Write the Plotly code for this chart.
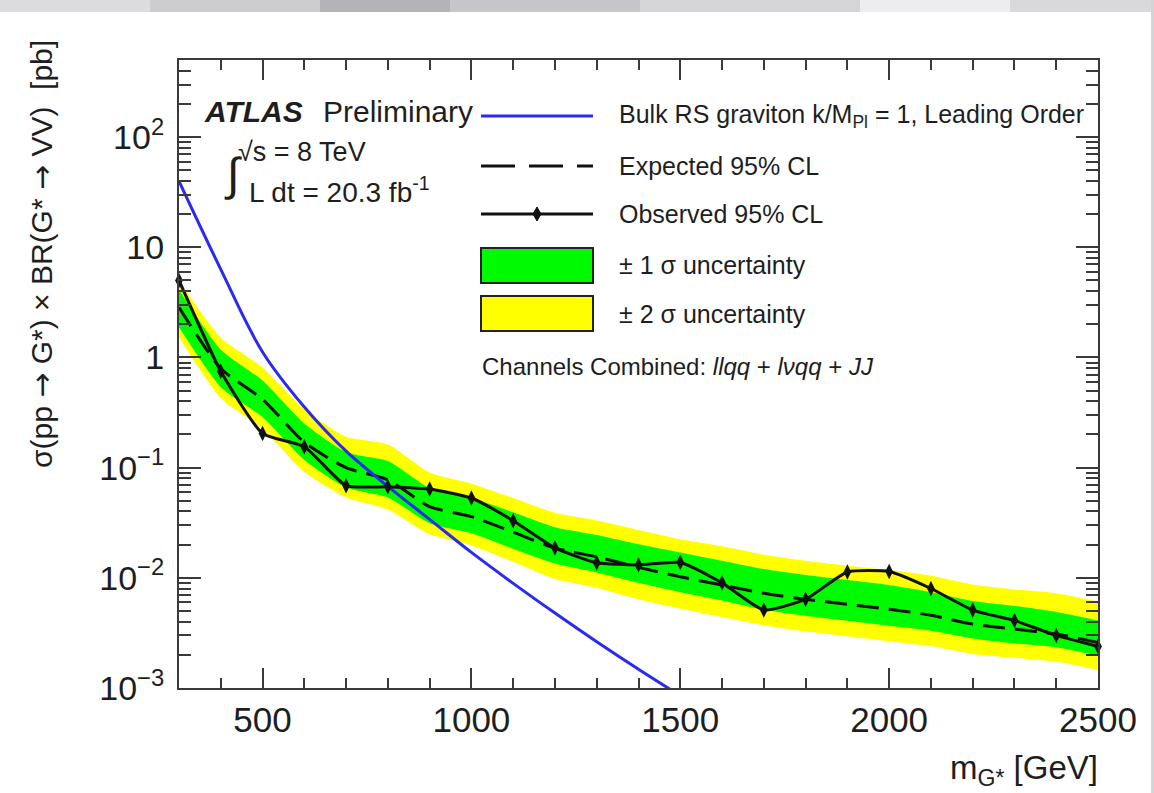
import plotly.graph_objects as go

# Resonance mass points (GeV)
mass = [300, 400, 500, 600, 700, 800, 900, 1000, 1100, 1200, 1300, 1400,
        1500, 1600, 1700, 1800, 1900, 2000, 2100, 2200, 2300, 2400, 2500]

# Observed 95% CL upper limit (pb)
observed = [5.0, 0.75, 0.204, 0.155, 0.0686, 0.067, 0.064, 0.053, 0.033, 0.0187,
            0.0137, 0.0131, 0.0138, 0.0090, 0.0051, 0.0064, 0.0113, 0.0114,
            0.0080, 0.0051, 0.0041, 0.0030, 0.00238]

# Expected 95% CL upper limit (pb)
expected = [2.85, 0.794, 0.417, 0.170, 0.100, 0.0776, 0.0442, 0.0359, 0.0260,
            0.0186, 0.0155, 0.01245, 0.01023, 0.00861, 0.00724, 0.00638,
            0.00575, 0.00519, 0.00457, 0.0038, 0.00343, 0.00309, 0.00259]

# +-1 sigma band edges (pb)
band1_hi = [4.12, 1.175, 0.617, 0.251, 0.138, 0.1148, 0.0653, 0.0531, 0.0394,
            0.0288, 0.0245, 0.0202, 0.0170, 0.01429, 0.0120, 0.0106, 0.00955,
            0.00861, 0.00741, 0.00617, 0.00556, 0.0049, 0.0041]
band1_lo = [1.88, 0.537, 0.288, 0.1175, 0.0661, 0.0537, 0.0313, 0.0254, 0.0184,
            0.0135, 0.0112, 0.00902, 0.00741, 0.00624, 0.00513, 0.00452,
            0.00407, 0.00367, 0.00331, 0.00282, 0.00254, 0.00234, 0.00196]

# +-2 sigma band edges (pb)
band2_hi = [4.95, 1.51, 0.813, 0.339, 0.1905, 0.162, 0.0902, 0.0716, 0.0531,
            0.0389, 0.0331, 0.0272, 0.0224, 0.0193, 0.0162, 0.01429, 0.01288,
            0.01175, 0.01047, 0.00871, 0.00785, 0.00724, 0.00607]
band2_lo = [1.53, 0.427, 0.224, 0.0912, 0.0537, 0.0417, 0.0248, 0.0197, 0.0140,
            0.00977, 0.00813, 0.00638, 0.00525, 0.00442, 0.00372, 0.00327,
            0.00295, 0.00266, 0.0024, 0.00204, 0.00188, 0.00174, 0.00146]

# Bulk RS graviton (k/M_Pl = 1) LO cross section x BR (pb)
theory_mass = [300, 400, 500, 600, 700, 800, 900, 1000, 1100, 1200, 1300, 1400, 1500]
theory_xsec = [39.8, 6.31, 1.122, 0.355, 0.141, 0.0676, 0.0339, 0.0170,
               0.00891, 0.00479, 0.00263, 0.00148, 0.000851]

# Axis ticks
x_tickvals = [500, 1000, 1500, 2000, 2500]
y_tickvals = [1e-3, 1e-2, 1e-1, 1, 10, 100]
y_ticktext = ["10<sup>\u22123</sup>", "10<sup>\u22122</sup>", "10<sup>\u22121</sup>",
              "1", "10", "10<sup>2</sup>"]
y_minor = [m * 10.0 ** e for e in range(-3, 3) for m in range(2, 10)]

FONT = "Liberation Sans, Arial, Helvetica, sans-serif"
AXIS = "#3a3a3a"
TEXT = "#1e1e1e"
GREEN = "#00fa00"
YELLOW = "#ffff00"
BLUE = "#2a2af2"
ARROW = '<span style="font-family:DejaVu Sans">\u2192</span>'

W, H = 1154, 793
L, R, T, B = 179, 1098, 60, 688


def px_x(x):
    return (x - L) / (R - L)


def px_y(y):
    return (B - y) / (B - T)


fig = go.Figure()

# +-2 sigma band
fig.add_trace(go.Scatter(x=mass, y=band2_lo, mode="lines", line=dict(width=0, shape="spline", smoothing=0.6),
                         hoverinfo="skip", showlegend=False))
fig.add_trace(go.Scatter(x=mass, y=band2_hi, mode="lines", line=dict(width=0, shape="spline", smoothing=0.6),
                         fill="tonexty", fillcolor=YELLOW, hoverinfo="skip", showlegend=False))
# +-1 sigma band
fig.add_trace(go.Scatter(x=mass, y=band1_lo, mode="lines", line=dict(width=0, shape="spline", smoothing=0.6),
                         hoverinfo="skip", showlegend=False))
fig.add_trace(go.Scatter(x=mass, y=band1_hi, mode="lines", line=dict(width=0, shape="spline", smoothing=0.6),
                         fill="tonexty", fillcolor=GREEN, hoverinfo="skip", showlegend=False))
# Expected limit
fig.add_trace(go.Scatter(x=mass, y=expected, mode="lines",
                         line=dict(color="#111111", width=3, dash="22px,10px", shape="spline", smoothing=0.6),
                         showlegend=False))
# Theory curve
fig.add_trace(go.Scatter(x=theory_mass, y=theory_xsec, mode="lines",
                         line=dict(color=BLUE, width=3, shape="spline", smoothing=1.0),
                         showlegend=False))
# Observed limit
fig.add_trace(go.Scatter(x=mass, y=observed, mode="lines+markers",
                         line=dict(color="#111111", width=3, shape="spline", smoothing=0.5),
                         marker=dict(symbol="diamond-tall", size=11, color="#111111"),
                         cliponaxis=False, showlegend=False))

shapes = []
annotations = []

# Slide background strip along the top edge
strip = [(0, 150, "#dcdcdf"), (150, 320, "#cdcdd0"), (320, 450, "#b4b4b8"),
         (450, 640, "#c6c6ca"), (640, 860, "#d5d5d8"), (860, 1010, "#ededef"),
         (1010, 1154, "#d9d9dc")]
for x0, x1, c in strip:
    shapes.append(dict(type="rect", xref="paper", yref="paper", x0=px_x(x0), x1=px_x(x1),
                       y0=px_y(12), y1=px_y(0), fillcolor=c, line=dict(width=0), layer="below"))
shapes.append(dict(type="rect", xref="paper", yref="paper", x0=px_x(1151), x1=px_x(1154),
                   y0=px_y(793), y1=px_y(0), fillcolor="#d4d4d7", line=dict(width=0), layer="below"))

# Legend symbols
lx0, lx1 = 481, 593
shapes.append(dict(type="line", xref="paper", yref="paper", x0=px_x(lx0), x1=px_x(lx1),
                   y0=px_y(116), y1=px_y(116), line=dict(color=BLUE, width=3)))
shapes.append(dict(type="line", xref="paper", yref="paper", x0=px_x(lx0), x1=px_x(lx1),
                   y0=px_y(166), y1=px_y(166), line=dict(color="#111111", width=3, dash="34px,14px")))
shapes.append(dict(type="line", xref="paper", yref="paper", x0=px_x(lx0), x1=px_x(lx1),
                   y0=px_y(214), y1=px_y(214), line=dict(color="#111111", width=3)))
cx, cy = (lx0 + lx1) / 2, 214
diamond = "M {a},{b} L {c},{d} L {a},{e} L {f},{d} Z".format(
    a=px_x(cx), b=px_y(cy - 7), c=px_x(cx + 4), d=px_y(cy), e=px_y(cy + 7), f=px_x(cx - 4))
shapes.append(dict(type="path", xref="paper", yref="paper", path=diamond,
                   fillcolor="#111111", line=dict(color="#111111", width=1)))
shapes.append(dict(type="rect", xref="paper", yref="paper", x0=px_x(lx0), x1=px_x(lx1),
                   y0=px_y(283), y1=px_y(248), fillcolor=GREEN, line=dict(color="#222222", width=2)))
shapes.append(dict(type="rect", xref="paper", yref="paper", x0=px_x(lx0), x1=px_x(lx1),
                   y0=px_y(331), y1=px_y(296), fillcolor=YELLOW, line=dict(color="#222222", width=2)))


def label(x, y, text, size=25, anchor="left"):
    annotations.append(dict(xref="paper", yref="paper", x=px_x(x), y=px_y(y), text=text,
                            showarrow=False, xanchor=anchor, yanchor="middle",
                            font=dict(family=FONT, size=size, color=TEXT)))


label(617, 116, "Bulk RS graviton k/M<sub>Pl</sub> = 1, Leading Order")
label(617, 166, "Expected 95% CL")
label(617, 214, "Observed 95% CL")
label(617, 265, "\u00b1 1 \u03c3 uncertainty")
label(617, 314, "\u00b1 2 \u03c3 uncertainty")
label(480, 366, "Channels Combined: <i>llqq</i> + <i>l\u03bdqq</i> + <i>JJ</i>", size=24)

label(202, 112, "<b><i>ATLAS</i></b>", size=30)
label(321, 112, "Preliminary", size=30)
label(222, 174, "\u222b", size=46)
label(236, 152, "\u221as = 8 TeV", size=27)
label(247, 190, "L dt = 20.3 fb<sup>-1</sup>", size=28)

# Axis titles
annotations.append(dict(xref="paper", yref="paper", x=px_x(42), y=px_y(38),
                        text="\u03c3(pp " + ARROW + " G*) \u00d7 BR(G* " + ARROW + " VV)  [pb]",
                        textangle=-90, showarrow=False, xanchor="center", yanchor="top",
                        font=dict(family=FONT, size=30, color=TEXT)))
annotations.append(dict(xref="paper", yref="paper", x=px_x(1100), y=px_y(770),
                        text="m<sub>G*</sub> [GeV]", showarrow=False, xanchor="right",
                        yanchor="middle", font=dict(family=FONT, size=33, color=TEXT)))

fig.update_layout(
    width=W, height=H, autosize=False,
    margin=dict(l=L, r=W - R, t=T, b=H - B, pad=0),
    paper_bgcolor="white", plot_bgcolor="white",
    showlegend=False,
    shapes=shapes, annotations=annotations,
    font=dict(family=FONT, color=TEXT),
    xaxis=dict(
        range=[300, 2500], showgrid=False, zeroline=False,
        showline=True, linecolor=AXIS, linewidth=2, mirror="ticks",
        ticks="inside", ticklen=20, tickwidth=2, tickcolor=AXIS,
        tickmode="array", tickvals=x_tickvals, ticktext=[str(v) for v in x_tickvals],
        tickfont=dict(family=FONT, size=35, color=TEXT),
        minor=dict(tickmode="linear", tick0=300, dtick=100, ticks="inside",
                   ticklen=10, tickwidth=2, tickcolor=AXIS, showgrid=False),
    ),
    yaxis=dict(
        type="log", range=[-3, 2.7], showgrid=False, zeroline=False,
        showline=True, linecolor=AXIS, linewidth=2, mirror="ticks",
        ticks="inside", ticklen=22, tickwidth=2, tickcolor=AXIS,
        tickmode="array", tickvals=y_tickvals, ticktext=y_ticktext,
        tickfont=dict(family=FONT, size=34, color=TEXT),
        ticklabelstandoff=6,
        minor=dict(tickmode="array", tickvals=y_minor, ticks="inside",
                   ticklen=12, tickwidth=2, tickcolor=AXIS, showgrid=False),
    ),
)

fig.write_html("out.html")
